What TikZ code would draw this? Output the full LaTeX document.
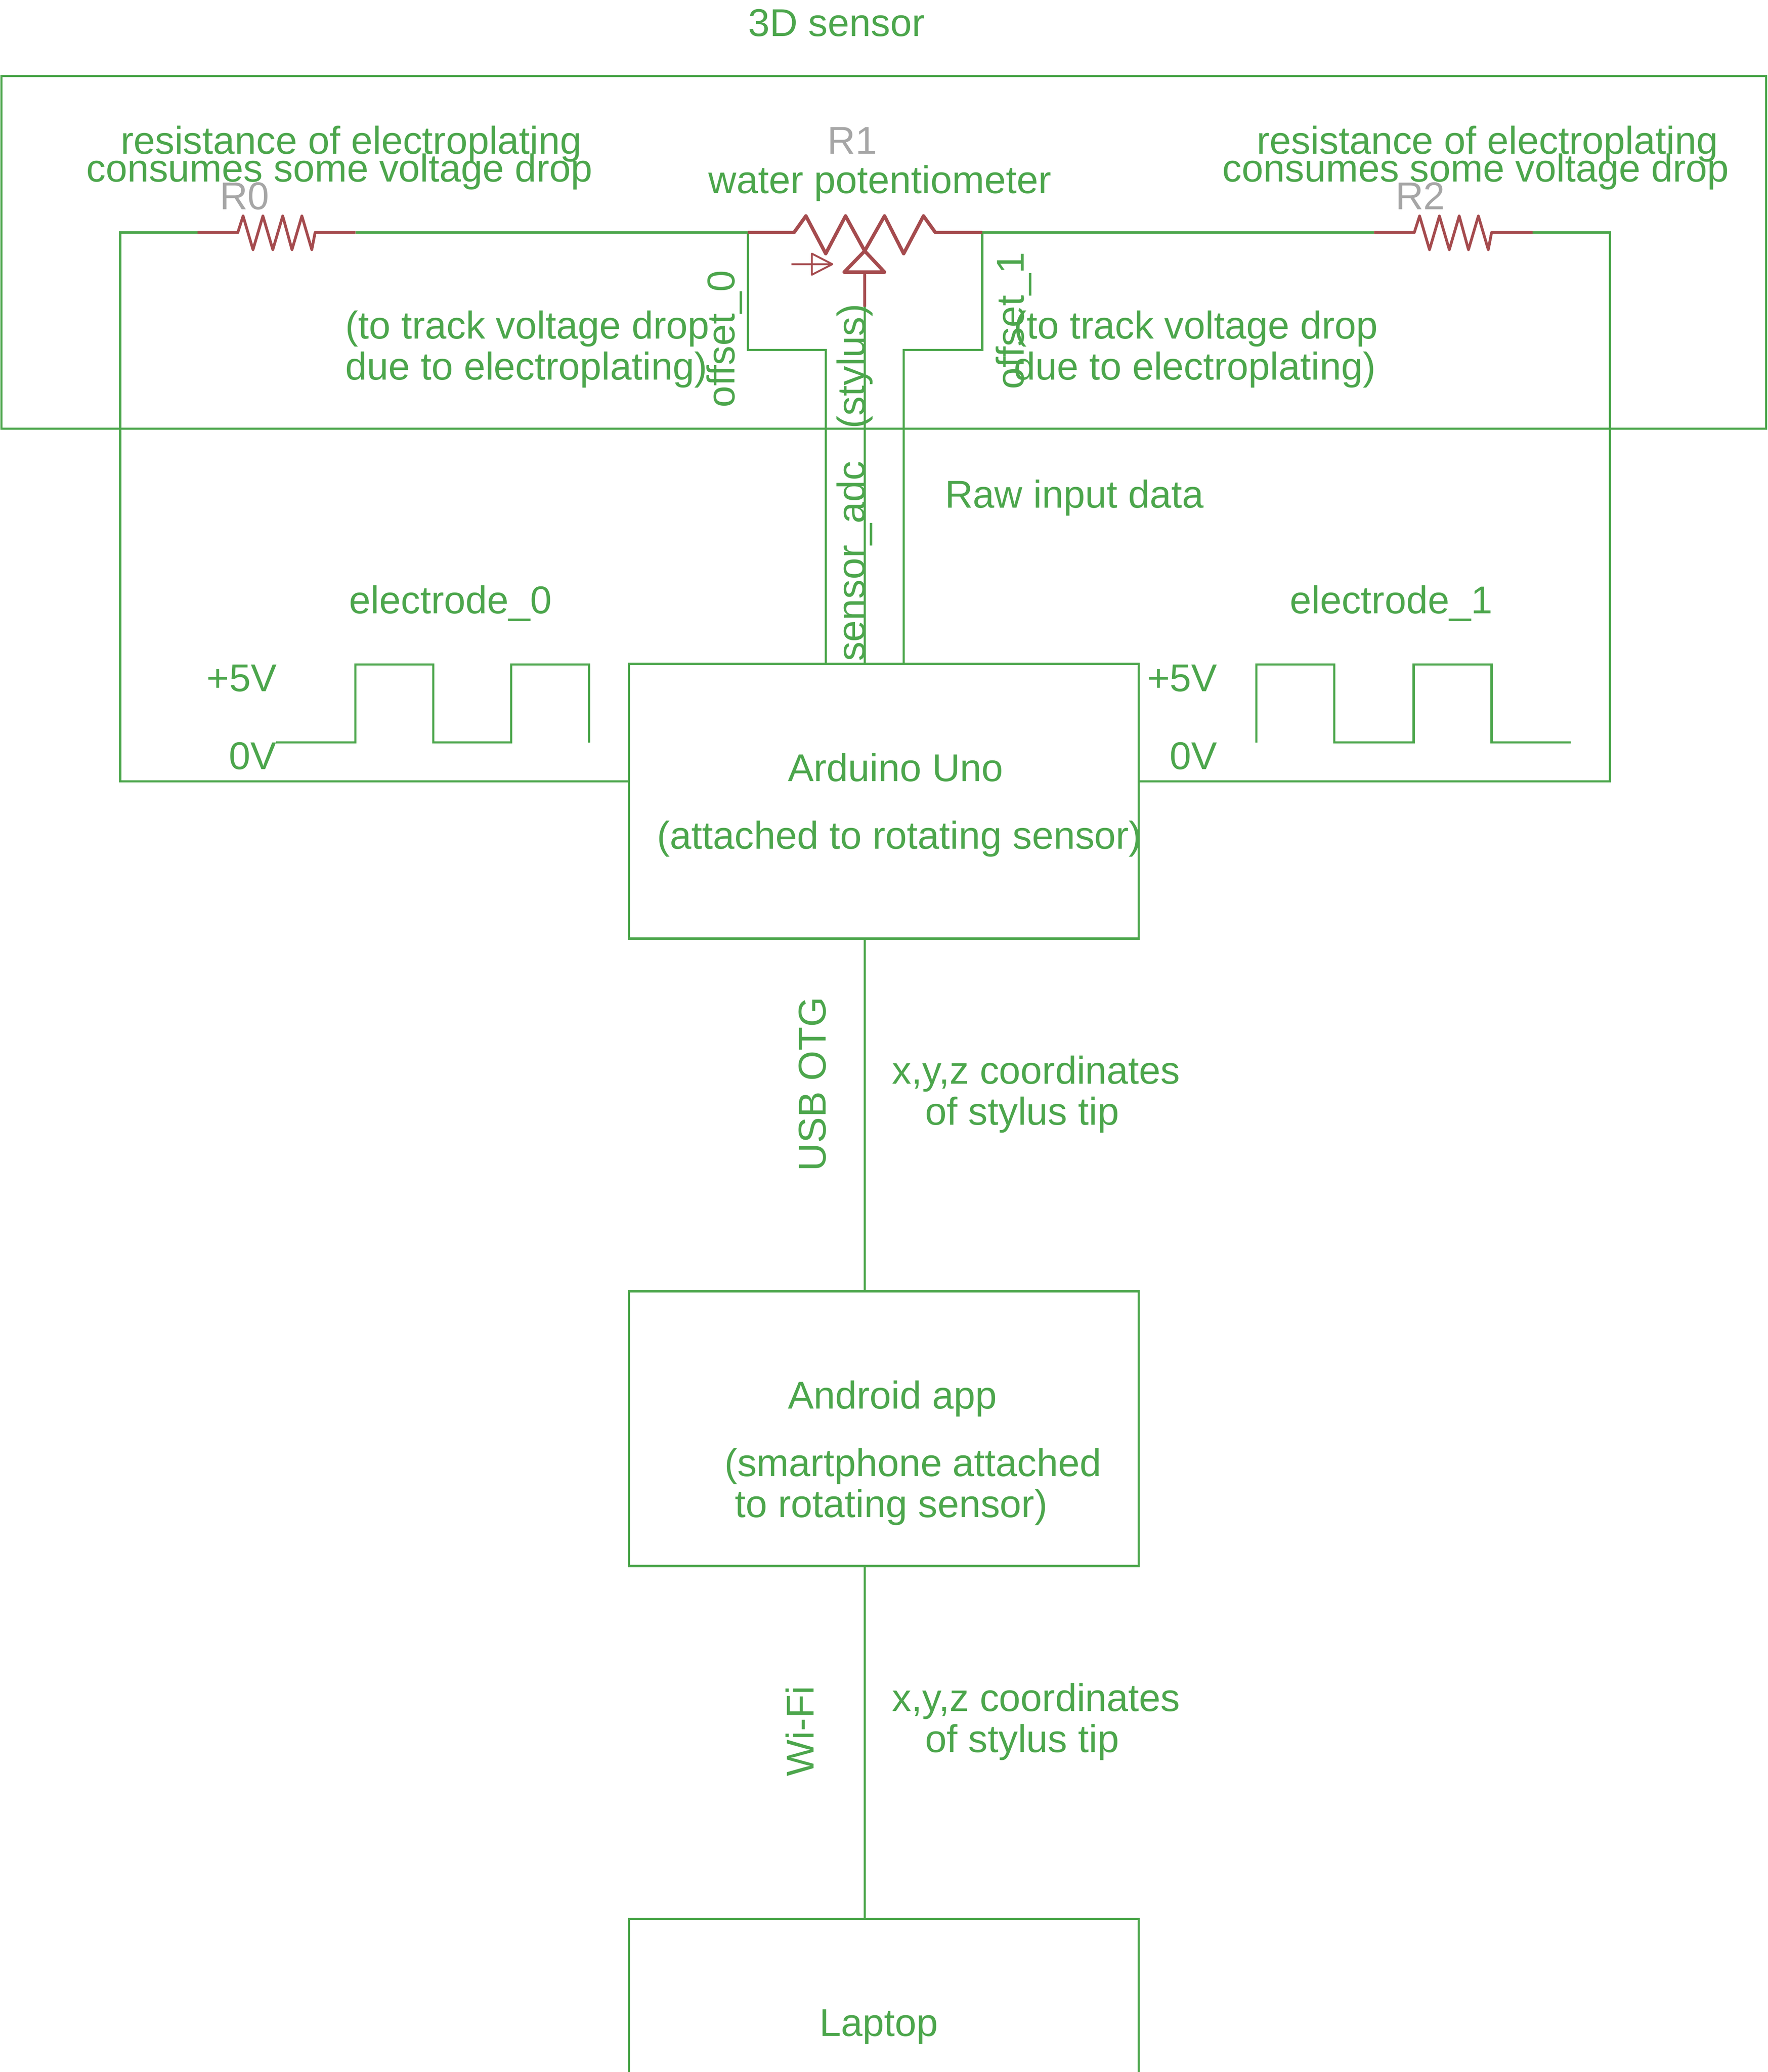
\documentclass[tikz,border=0pt]{standalone}
\usepackage{fontspec}
\setmainfont{Liberation Sans}
\usepackage{xcolor}
\definecolor{wiregreen}{RGB}{76,166,76}
\definecolor{partred}{RGB}{165,75,78}
\definecolor{partgrey}{RGB}{166,166,166}
\tikzset{
  lbl/.style={anchor=base west,inner sep=0pt,text=wiregreen,font=\fontsize{16.7}{19}\selectfont},
  lblup/.style={lbl,rotate=90},
  partname/.style={lbl,text=partgrey},
  wire/.style={draw=wiregreen,line width=0.95pt},
  part/.style={draw=partred,line width=1.2pt,line join=round},
  block/.style={wire,rectangle,inner sep=0pt,minimum width=7.72cm,minimum height=4.16cm}
}
\begin{document}
\begin{tikzpicture}[x=0.02cm,y=-0.02cm]
\useasboundingbox (0,0) rectangle (1338,1568.5);
\clip (0,0) rectangle (1338,1568.5);
% boxes
\node[wire,rectangle,inner sep=0pt,minimum width=26.72cm,minimum height=5.34cm] (sensor) at (669,191) {};
\node[block] (arduino) at (669,606.5) {};
\node[block] (android) at (669,1081.5) {};
\node[block] (laptop) at (669,1556.5) {};
% corner points
\coordinate (c0) at (91,176);
\coordinate (a0) at (476,591.5);
\coordinate (c2) at (1218.5,176);
\coordinate (a2) at (862,591.5);
\coordinate (r0in) at (149.5,176);
\coordinate (r0out) at (269,176);
\coordinate (r1in) at (566,176);
\coordinate (r1out) at (743.5,176);
\coordinate (r2in) at (1040,176);
\coordinate (r2out) at (1160,176);
\coordinate (o0) at (566,265);
\coordinate (o0b) at (625,265);
\coordinate (o1) at (743.5,265);
\coordinate (o1b) at (684,265);
\coordinate (wiper) at (654.5,206);
\coordinate (wiperend) at (654.5,232);
\coordinate (arrowin) at (599,200);
\coordinate (arrowtip) at (630,200);
% wires
\draw[wire] (a0) -| (c0) -- (r0in);
\draw[wire] (r0out) -- (r1in);
\draw[wire] (r1out) -- (r2in);
\draw[wire] (r2out) -- (c2) |- (a2);
\draw[wire] (r1in) -- (o0) -- (o0b) -- (arduino.north -| o0b);
\draw[wire] (r1out) -- (o1) -- (o1b) -- (arduino.north -| o1b);
\draw[wire] (wiperend) -- (arduino.north -| wiperend);
\draw[wire] (arduino.south -| wiper) -- (android.north -| wiper);
\draw[wire] (android.south -| wiper) -- (laptop.north -| wiper);
% resistors
\foreach \dx/\rin/\rout in {0/r0in/r0out,890.5/r2in/r2out}{
  \draw[part] (\rin) -- (180+\dx,176) -- (184+\dx,163.5) -- (191.5+\dx,189) -- (199+\dx,163.5) -- (206.5+\dx,189)
    -- (214+\dx,163.5) -- (221+\dx,189) -- (228.5+\dx,163.5) -- (236+\dx,189) -- (238.5+\dx,176) -- (\rout);
}
\draw[part,line width=1.5pt] (r1in) -- (601,176) -- (610,163.5) -- (625,192) -- (640,163.5) -- (654.5,190)
  -- (669.5,163.5) -- (684,192) -- (699,163.5) -- (708,176) -- (r1out);
\draw[part,line width=1.5pt] (654.5,190) -- (669.5,206) -- (639,206) -- cycle;
\draw[part] (wiper) -- (wiperend);
\draw[part,line width=0.8pt] (arrowin) -- (arrowtip) -- (614.5,208) -- (614.5,192) -- (arrowtip);
% pulses
\draw[wire] (209,562) -- (269,562) -- (269,503) -- (328,503) -- (328,562) -- (387,562) -- (387,503) -- (446,503) -- (446,562);
\draw[wire] (951,562) -- (951,503) -- (1010,503) -- (1010,562) -- (1070,562) -- (1070,503) -- (1129,503) -- (1129,562) -- (1189,562);
% labels
\node[lbl] (title) at (566,27.5) {3D sensor};
\node[lbl] (res0a) at (91,116.5) {resistance of electroplating};
\node[lbl] (res0b) at (65,137.5) {consumes some voltage drop};
\node[lbl] (res2a) at (951,116.5) {resistance of electroplating};
\node[lbl] (res2b) at (925,137.5) {consumes some voltage drop};
\node[partname] (r0name) at (166,158.5) {R0};
\node[partname] (r1name) at (626,116.5) {R1};
\node[partname] (r2name) at (1056,158.5) {R2};
\node[lbl] (water) at (536,146.5) {water potentiometer};
\node[lbl] (track0a) at (261,256.5) {(to track voltage drop};
\node[lbl] (track0b) at (261,287.5) {due to electroplating)};
\node[lbl] (track1a) at (767,256.5) {(to track voltage drop};
\node[lbl] (track1b) at (767,287.5) {due to electroplating)};
\node[lblup] (off0) at (556,309) {offset\_0};
\node[lblup] (off1) at (775,295) {offset\_1};
\node[lblup] (adc) at (654.5,501) {sensor\_adc\ \ \ (stylus)};
\node[lbl] (raw) at (715,384.5) {Raw input data};
\node[lbl] (el0) at (264,464.5) {electrode\_0};
\node[lbl] (el1) at (976,464.5) {electrode\_1};
\node[lbl] (hi0) at (156,523.5) {+5V};
\node[lbl] (lo0) at (173,582.5) {0V};
\node[lbl] (hi1) at (868,523.5) {+5V};
\node[lbl] (lo1) at (885,582.5) {0V};
\node[lbl] (uno) at (596,591.5) {Arduino Uno};
\node[lbl] (unob) at (497,642.5) {(attached to rotating sensor)};
\node[lblup] (usb) at (625,887) {USB OTG};
\node[lbl] (xyz0) at (675,820.5) {x,y,z coordinates};
\node[lbl] (tip0) at (700,851.5) {of stylus tip};
\node[lbl] (app) at (596,1066.5) {Android app};
\node[lbl] (appb) at (548,1117.5) {(smartphone attached};
\node[lbl] (appc) at (556,1148.5) {to rotating sensor)};
\node[lblup] (wifi) at (616,1345) {Wi-Fi};
\node[lbl] (xyz1) at (675,1295.5) {x,y,z coordinates};
\node[lbl] (tip1) at (700,1326.5) {of stylus tip};
\node[lbl] (lap) at (620,1541.5) {Laptop};
\end{tikzpicture}
\end{document}
